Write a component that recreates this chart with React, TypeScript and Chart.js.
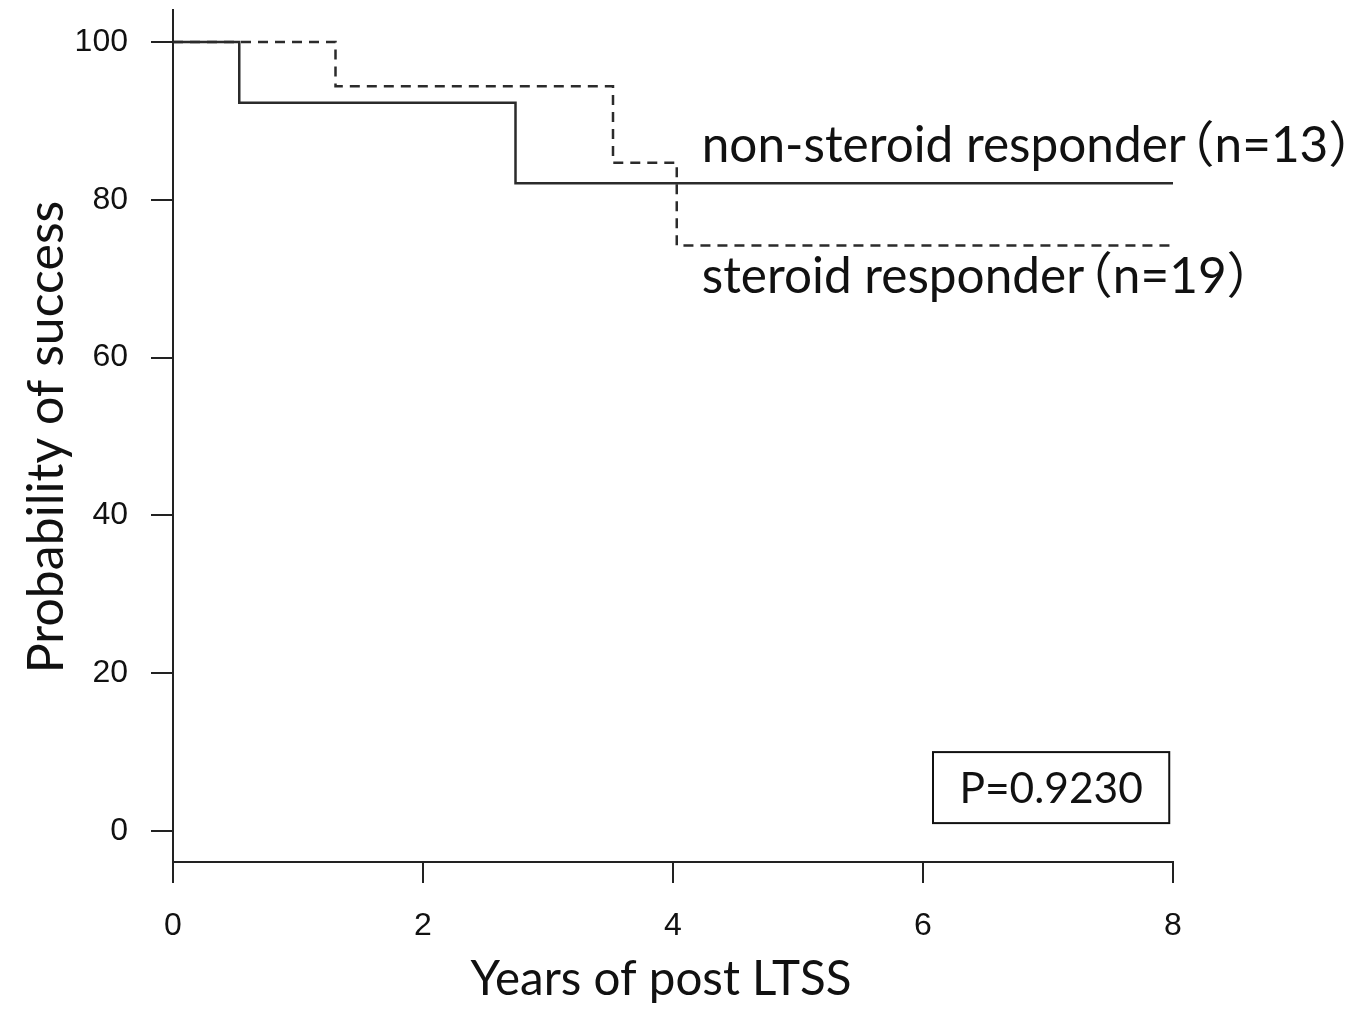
import { useEffect, useRef } from "react";
import { Chart, registerables } from "chart.js";

Chart.register(...registerables);

// Kaplan-Meier step data (years, % success)
const nonSteroidYears = [0, 0.53, 2.74, 8];
const nonSteroidSuccess = [100, 92.3, 82.1, 82.1];
const steroidYears = [0, 1.3, 3.52, 4.03, 8];
const steroidSuccess = [100, 94.4, 84.7, 74.2, 74.2];

const xTickValues = [0, 2, 4, 6, 8];
const yTickValues = [0, 20, 40, 60, 80, 100];

const nonSteroidName = "non-steroid responder";
const nonSteroidCount = "（n=13）";
const steroidName = "steroid responder";
const steroidCount = "（n=19）";
const pValueLabel = "P=0.9230";
const xTitle = "Years of post LTSS";
const yTitle = "Probability of success";

const TEXT_FONT = "Lato, 'Noto Sans CJK JP', sans-serif";
const TICK_FONT = "'Liberation Sans', Arial, sans-serif";

function drawGroupLabel(ctx: CanvasRenderingContext2D, name: string, count: string, x: number, y: number, size: number) {
  ctx.fillText(name, x, y);
  const w = ctx.measureText(name).width;
  // full-width bracket glyph has a wide left bearing; tuck it in close to the name
  ctx.fillText(count, x + w - 0.42 * size, y);
}

const annotationPlugin = {
  id: "kmAnnotations",
  afterDraw(chart: any) {
    const { ctx } = chart;
    const xs = chart.scales.x;
    const ys = chart.scales.y;
    ctx.save();
    ctx.fillStyle = "#111";

    // group labels
    const labelSize = 49.5;
    ctx.font = `${labelSize}px ${TEXT_FONT}`;
    ctx.textAlign = "left";
    ctx.textBaseline = "alphabetic";
    drawGroupLabel(ctx, nonSteroidName, nonSteroidCount, xs.getPixelForValue(4.23), ys.getPixelForValue(84.8), labelSize);
    drawGroupLabel(ctx, steroidName, steroidCount, xs.getPixelForValue(4.23), ys.getPixelForValue(68.2), labelSize);

    // P-value box
    const bx1 = xs.getPixelForValue(6.08);
    const bx2 = xs.getPixelForValue(7.97);
    const by1 = ys.getPixelForValue(10.0);
    const by2 = ys.getPixelForValue(1.0);
    ctx.strokeStyle = "#111";
    ctx.lineWidth = 2;
    ctx.strokeRect(bx1, by1, bx2 - bx1, by2 - by1);
    ctx.font = `42.5px ${TEXT_FONT}`;
    ctx.textAlign = "center";
    ctx.fillText(pValueLabel, (bx1 + bx2) / 2, ys.getPixelForValue(3.6));

    // axis titles
    ctx.font = `47.5px ${TEXT_FONT}`;
    ctx.textAlign = "center";
    ctx.fillText(xTitle, 661, 995);
    ctx.font = `50px ${TEXT_FONT}`;
    ctx.translate(63, 437);
    ctx.rotate(-Math.PI / 2);
    ctx.fillText(yTitle, 0, 0);
    ctx.restore();
  },
};

export default function App() {
  const canvasRef = useRef<HTMLCanvasElement | null>(null);

  useEffect(() => {
    const canvas = canvasRef.current;
    if (!canvas) return;
    const chart = new Chart(canvas, {
      type: "line",
      data: {
        datasets: [
          {
            label: nonSteroidName + nonSteroidCount,
            data: nonSteroidYears.map((x, i) => ({ x, y: nonSteroidSuccess[i] })),
            stepped: "before",
            borderColor: "#2b2b2b",
            borderWidth: 2.5,
            pointRadius: 0,
            fill: false,
          },
          {
            label: steroidName + steroidCount,
            data: steroidYears.map((x, i) => ({ x, y: steroidSuccess[i] })),
            stepped: "before",
            borderColor: "#2b2b2b",
            borderWidth: 2.5,
            borderDash: [10, 7],
            pointRadius: 0,
            fill: false,
          },
        ],
      },
      options: {
        animation: false,
        responsive: false,
        devicePixelRatio: 1,
        layout: { padding: { left: 0, right: 180, top: 10, bottom: 0 } },
        plugins: {
          legend: { display: false },
          tooltip: { enabled: false },
          title: { display: false },
        },
        scales: {
          x: {
            type: "linear",
            min: 0,
            max: 8,
            afterBuildTicks: (scale: any) => {
              scale.ticks = xTickValues.map((v) => ({ value: v }));
            },
            afterFit: (scale: any) => {
              scale.height = 150;
              scale.paddingLeft = 0;
              scale.paddingRight = 0;
            },
            grid: {
              drawOnChartArea: false,
              drawTicks: true,
              tickLength: 21,
              color: "#222",
              lineWidth: 2,
            },
            border: { display: true, color: "#222", width: 2 },
            ticks: {
              color: "#111",
              padding: 24,
              font: { family: TICK_FONT, size: 32 },
            },
          },
          y: {
            type: "linear",
            min: -3.93,
            max: 104.06,
            afterBuildTicks: (scale: any) => {
              scale.ticks = yTickValues.map((v) => ({ value: v }));
            },
            afterFit: (scale: any) => {
              scale.width = 173;
              scale.paddingTop = 0;
              scale.paddingBottom = 0;
            },
            grid: {
              drawOnChartArea: false,
              drawTicks: true,
              tickLength: 22,
              color: "#222",
              lineWidth: 2,
            },
            border: { display: true, color: "#222", width: 2 },
            ticks: {
              color: "#111",
              padding: 23,
              font: { family: TICK_FONT, size: 32 },
            },
          },
        },
      },
      plugins: [annotationPlugin],
    } as any);
    return () => chart.destroy();
  }, []);

  return (
    <div
      style={{
        position: "absolute",
        left: 0,
        top: 0,
        width: 1353,
        height: 1012,
        background: "#fff",
      }}
    >
      <canvas ref={canvasRef} width={1353} height={1012} />
    </div>
  );
}
